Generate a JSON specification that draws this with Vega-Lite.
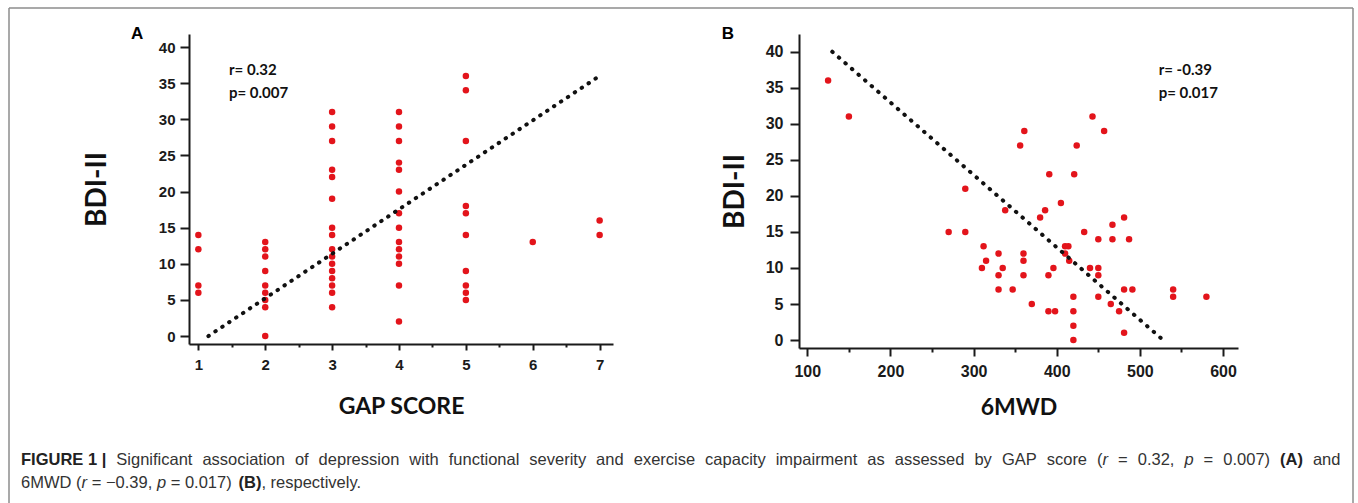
{
  "$schema": "https://vega.github.io/schema/vega-lite/v6.json",
  "background": "white",
  "padding": {"left": 8, "top": 7, "right": 0, "bottom": 0},
  "config": {
    "view": {"stroke": null},
    "text": {"font": "Liberation Sans", "fontSize": 16.5, "align": "left", "baseline": "alphabetic", "color": "#333333"},
    "axis": {
      "grid": false,
      "domainColor": "#1a1a1a",
      "domainWidth": 2,
      "tickColor": "#1a1a1a",
      "tickWidth": 2,
      "tickCount": 30,
      "labelFont": "Liberation Sans",
      "labelFontWeight": "bold",
      "labelColor": "#1a1a1a",
      "labelOverlap": false,
      "titleFont": "Lato",
      "titleFontWeight": "bold",
      "titleColor": "#111111"
    }
  },
  "datasets": {
    "gapPoints": [
      {"gap": 1, "bdi": 14}, {"gap": 1, "bdi": 12}, {"gap": 1, "bdi": 7}, {"gap": 1, "bdi": 6},
      {"gap": 2, "bdi": 13}, {"gap": 2, "bdi": 12}, {"gap": 2, "bdi": 11}, {"gap": 2, "bdi": 9}, {"gap": 2, "bdi": 7}, {"gap": 2, "bdi": 6}, {"gap": 2, "bdi": 5}, {"gap": 2, "bdi": 4}, {"gap": 2, "bdi": 0},
      {"gap": 3, "bdi": 31}, {"gap": 3, "bdi": 29}, {"gap": 3, "bdi": 27}, {"gap": 3, "bdi": 23}, {"gap": 3, "bdi": 22}, {"gap": 3, "bdi": 19}, {"gap": 3, "bdi": 15}, {"gap": 3, "bdi": 14}, {"gap": 3, "bdi": 12}, {"gap": 3, "bdi": 11}, {"gap": 3, "bdi": 10}, {"gap": 3, "bdi": 9}, {"gap": 3, "bdi": 8}, {"gap": 3, "bdi": 7}, {"gap": 3, "bdi": 6}, {"gap": 3, "bdi": 4},
      {"gap": 4, "bdi": 31}, {"gap": 4, "bdi": 29}, {"gap": 4, "bdi": 27}, {"gap": 4, "bdi": 24}, {"gap": 4, "bdi": 23}, {"gap": 4, "bdi": 20}, {"gap": 4, "bdi": 17}, {"gap": 4, "bdi": 15}, {"gap": 4, "bdi": 13}, {"gap": 4, "bdi": 12}, {"gap": 4, "bdi": 11}, {"gap": 4, "bdi": 10}, {"gap": 4, "bdi": 7}, {"gap": 4, "bdi": 2},
      {"gap": 5, "bdi": 36}, {"gap": 5, "bdi": 34}, {"gap": 5, "bdi": 27}, {"gap": 5, "bdi": 18}, {"gap": 5, "bdi": 17}, {"gap": 5, "bdi": 14}, {"gap": 5, "bdi": 9}, {"gap": 5, "bdi": 7}, {"gap": 5, "bdi": 6}, {"gap": 5, "bdi": 5},
      {"gap": 6, "bdi": 13},
      {"gap": 7, "bdi": 16}, {"gap": 7, "bdi": 14}
    ],
    "gapFit": [{"gap": 1.15, "bdi": 0}, {"gap": 7, "bdi": 36}],
    "mwdPoints": [
      {"mwd": 125, "bdi": 36}, {"mwd": 150, "bdi": 31}, {"mwd": 290, "bdi": 21}, {"mwd": 270, "bdi": 15}, {"mwd": 290, "bdi": 15},
      {"mwd": 443, "bdi": 31}, {"mwd": 457, "bdi": 29}, {"mwd": 361, "bdi": 29}, {"mwd": 356, "bdi": 27}, {"mwd": 424, "bdi": 27},
      {"mwd": 391, "bdi": 23}, {"mwd": 421, "bdi": 23}, {"mwd": 405, "bdi": 19}, {"mwd": 338, "bdi": 18}, {"mwd": 386, "bdi": 18},
      {"mwd": 380, "bdi": 17}, {"mwd": 433, "bdi": 15}, {"mwd": 481, "bdi": 17}, {"mwd": 467, "bdi": 16}, {"mwd": 450, "bdi": 14},
      {"mwd": 467, "bdi": 14}, {"mwd": 487, "bdi": 14}, {"mwd": 312, "bdi": 13}, {"mwd": 410, "bdi": 13}, {"mwd": 414, "bdi": 13},
      {"mwd": 410, "bdi": 12}, {"mwd": 415, "bdi": 11}, {"mwd": 330, "bdi": 12}, {"mwd": 360, "bdi": 12}, {"mwd": 315, "bdi": 11},
      {"mwd": 360, "bdi": 11}, {"mwd": 310, "bdi": 10}, {"mwd": 335, "bdi": 10}, {"mwd": 396, "bdi": 10}, {"mwd": 440, "bdi": 10},
      {"mwd": 450, "bdi": 10}, {"mwd": 330, "bdi": 9}, {"mwd": 360, "bdi": 9}, {"mwd": 390, "bdi": 9}, {"mwd": 450, "bdi": 9},
      {"mwd": 330, "bdi": 7}, {"mwd": 347, "bdi": 7}, {"mwd": 481, "bdi": 7}, {"mwd": 491, "bdi": 7}, {"mwd": 540, "bdi": 7},
      {"mwd": 540, "bdi": 6}, {"mwd": 580, "bdi": 6}, {"mwd": 450, "bdi": 6}, {"mwd": 420, "bdi": 6}, {"mwd": 370, "bdi": 5},
      {"mwd": 465, "bdi": 5}, {"mwd": 390, "bdi": 4}, {"mwd": 398, "bdi": 4}, {"mwd": 420, "bdi": 4}, {"mwd": 475, "bdi": 4},
      {"mwd": 420, "bdi": 2}, {"mwd": 420, "bdi": 0}, {"mwd": 481, "bdi": 1}
    ],
    "mwdFit": [{"mwd": 130, "bdi": 40}, {"mwd": 528, "bdi": 0}]
  },
  "vconcat": [
    {
      "hconcat": [
        {
          "width": 424,
          "height": 310,
          "layer": [
            {
              "data": {"name": "gapPoints"},
              "mark": {"type": "circle", "size": 42, "color": "#e3141b", "opacity": 1},
              "encoding": {
                "x": {
                  "field": "gap", "type": "quantitative",
                  "scale": {"domain": [0.86, 7.2], "nice": false, "zero": false},
                  "axis": {
                    "title": "GAP SCORE",
                    "values": [1, 1.5, 2, 2.5, 3, 3.5, 4, 4.5, 5, 5.5, 6, 6.5, 7],
                    "tickCount": 30,
                    "labelExpr": "datum.value % 1 === 0 ? format(datum.value, 'd') : ''",
                    "tickSize": {"condition": {"test": "datum.value % 1 !== 0", "value": 3}, "value": 6},
                    "labelFontSize": 15,
                    "labelPadding": 7,
                    "titleFontSize": 23,
                    "titlePadding": 23
                  }
                },
                "y": {
                  "field": "bdi", "type": "quantitative",
                  "scale": {"domain": [-1.1, 41.8], "nice": false, "zero": false},
                  "axis": {
                    "title": "BDI-II",
                    "values": [0, 5, 10, 15, 20, 25, 30, 35, 40],
                    "tickCount": 30,
                    "tickSize": 9,
                    "labelFontSize": 15,
                    "labelPadding": 5,
                    "titleFontSize": 28,
                    "titlePadding": 47
                  }
                }
              }
            },
            {
              "data": {"name": "gapFit"},
              "mark": {"type": "line", "color": "#111111", "strokeWidth": 4, "strokeCap": "round", "strokeDash": [0.5, 7.8]},
              "encoding": {
                "x": {"field": "gap", "type": "quantitative"},
                "y": {"field": "bdi", "type": "quantitative"}
              }
            },
            {
              "data": {"values": [{}]},
              "mark": {"type": "text", "text": "r= 0.32", "font": "Lato", "fontWeight": "bold", "fontSize": 15, "align": "left", "baseline": "middle", "color": "#111111"},
              "encoding": {"x": {"datum": 1.458}, "y": {"datum": 36.82}}
            },
            {
              "data": {"values": [{}]},
              "mark": {"type": "text", "text": "p= 0.007", "font": "Lato", "fontWeight": "bold", "fontSize": 15, "align": "left", "baseline": "middle", "color": "#111111"},
              "encoding": {"x": {"datum": 1.458}, "y": {"datum": 33.68}}
            },
            {
              "data": {"values": [{}]},
              "mark": {"type": "text", "text": "A", "font": "Liberation Sans", "fontWeight": "bold", "fontSize": 17, "align": "center", "baseline": "middle", "color": "#000000"},
              "encoding": {"x": {"datum": 0.083}, "y": {"datum": 41.8}}
            }
          ]
        },
        {
          "width": 439,
          "height": 314,
          "layer": [
            {
              "data": {"name": "mwdPoints"},
              "mark": {"type": "circle", "size": 42, "color": "#e3141b", "opacity": 1},
              "encoding": {
                "x": {
                  "field": "mwd", "type": "quantitative",
                  "scale": {"domain": [90, 618], "nice": false, "zero": false},
                  "axis": {
                    "title": "6MWD",
                    "values": [100, 150, 200, 250, 300, 350, 400, 450, 500, 550, 600],
                    "tickCount": 30,
                    "labelExpr": "datum.value % 100 === 0 ? datum.label : ''",
                    "tickSize": {"condition": {"test": "datum.value % 100 !== 0", "value": 4}, "value": 8},
                    "labelFontSize": 16,
                    "labelPadding": 7,
                    "titleFontSize": 23,
                    "titlePadding": 17
                  }
                },
                "y": {
                  "field": "bdi", "type": "quantitative",
                  "scale": {"domain": [-1.1, 42.46], "nice": false, "zero": false},
                  "axis": {
                    "title": "BDI-II",
                    "values": [0, 5, 10, 15, 20, 25, 30, 35, 40],
                    "tickCount": 30,
                    "tickSize": 9,
                    "labelFontSize": 16,
                    "labelPadding": 7,
                    "titleFontSize": 28,
                    "titlePadding": 16
                  }
                }
              }
            },
            {
              "data": {"name": "mwdFit"},
              "mark": {"type": "line", "color": "#111111", "strokeWidth": 4, "strokeCap": "round", "strokeDash": [0.5, 8.2]},
              "encoding": {
                "x": {"field": "mwd", "type": "quantitative"},
                "y": {"field": "bdi", "type": "quantitative"}
              }
            },
            {
              "data": {"values": [{}]},
              "mark": {"type": "text", "text": "r= -0.39", "font": "Lato", "fontWeight": "bold", "fontSize": 15, "align": "left", "baseline": "middle", "color": "#111111"},
              "encoding": {"x": {"datum": 522.6}, "y": {"datum": 37.46}}
            },
            {
              "data": {"values": [{}]},
              "mark": {"type": "text", "text": "p= 0.017", "font": "Lato", "fontWeight": "bold", "fontSize": 15, "align": "left", "baseline": "middle", "color": "#111111"},
              "encoding": {"x": {"datum": 522.6}, "y": {"datum": 34.31}}
            },
            {
              "data": {"values": [{}]},
              "mark": {"type": "text", "text": "B", "font": "Liberation Sans", "fontWeight": "bold", "fontSize": 17, "align": "center", "baseline": "middle", "color": "#000000"},
              "encoding": {"x": {"datum": 4.6}, "y": {"datum": 42.46}}
            }
          ]
        }
      ],
      "spacing": 186,
      "bounds": "flush"
    },
    {
      "width": 1100,
      "height": 50,
      "data": {"values": [{}]},
      "encoding": {
        "x": {"datum": 0, "type": "quantitative", "scale": {"domain": [0, 1100], "nice": false, "zero": false}, "axis": null},
        "y": {"datum": 0, "type": "quantitative", "scale": {"domain": [0, 50], "nice": false, "zero": false, "reverse": true}, "axis": null}
      },
      "layer": [
        {"mark": {"type": "rule", "color": "#8c8c8c", "strokeWidth": 1.5},
         "encoding": {"x": {"datum": -180, "type": "quantitative"}, "y": {"datum": -436, "type": "quantitative"}, "y2": {"datum": 62}}},
        {"mark": {"type": "rule", "color": "#8c8c8c", "strokeWidth": 1.5},
         "encoding": {"x": {"datum": 1164, "type": "quantitative"}, "y": {"datum": -436, "type": "quantitative"}, "y2": {"datum": 62}}},
        {"mark": {"type": "rule", "color": "#8c8c8c", "strokeWidth": 1.5},
         "encoding": {"y": {"datum": -436, "type": "quantitative"}, "x": {"datum": -180, "type": "quantitative"}, "x2": {"datum": 1164}}},
        {"mark": {"type": "text", "text": "FIGURE 1 |", "fontWeight": "bold", "color": "#222222"}, "encoding": {"x": {"datum": -168, "type": "quantitative"}, "y": {"datum": 21, "type": "quantitative"}}},
        {"mark": {"type": "text", "text": "Significant"}, "encoding": {"x": {"datum": -72.7, "type": "quantitative"}, "y": {"datum": 21, "type": "quantitative"}}},
        {"mark": {"type": "text", "text": "association"}, "encoding": {"x": {"datum": 13.4, "type": "quantitative"}, "y": {"datum": 21, "type": "quantitative"}}},
        {"mark": {"type": "text", "text": "of"}, "encoding": {"x": {"datum": 105.9, "type": "quantitative"}, "y": {"datum": 21, "type": "quantitative"}}},
        {"mark": {"type": "text", "text": "depression"}, "encoding": {"x": {"datum": 129.6, "type": "quantitative"}, "y": {"datum": 21, "type": "quantitative"}}},
        {"mark": {"type": "text", "text": "with"}, "encoding": {"x": {"datum": 220.3, "type": "quantitative"}, "y": {"datum": 21, "type": "quantitative"}}},
        {"mark": {"type": "text", "text": "functional"}, "encoding": {"x": {"datum": 259.7, "type": "quantitative"}, "y": {"datum": 21, "type": "quantitative"}}},
        {"mark": {"type": "text", "text": "severity"}, "encoding": {"x": {"datum": 340.3, "type": "quantitative"}, "y": {"datum": 21, "type": "quantitative"}}},
        {"mark": {"type": "text", "text": "and"}, "encoding": {"x": {"datum": 407.1, "type": "quantitative"}, "y": {"datum": 21, "type": "quantitative"}}},
        {"mark": {"type": "text", "text": "exercise"}, "encoding": {"x": {"datum": 444.7, "type": "quantitative"}, "y": {"datum": 21, "type": "quantitative"}}},
        {"mark": {"type": "text", "text": "capacity"}, "encoding": {"x": {"datum": 516.1, "type": "quantitative"}, "y": {"datum": 21, "type": "quantitative"}}},
        {"mark": {"type": "text", "text": "impairment"}, "encoding": {"x": {"datum": 586.7, "type": "quantitative"}, "y": {"datum": 21, "type": "quantitative"}}},
        {"mark": {"type": "text", "text": "as"}, "encoding": {"x": {"datum": 678.2, "type": "quantitative"}, "y": {"datum": 21, "type": "quantitative"}}},
        {"mark": {"type": "text", "text": "assessed"}, "encoding": {"x": {"datum": 705.7, "type": "quantitative"}, "y": {"datum": 21, "type": "quantitative"}}},
        {"mark": {"type": "text", "text": "by"}, "encoding": {"x": {"datum": 785.4, "type": "quantitative"}, "y": {"datum": 21, "type": "quantitative"}}},
        {"mark": {"type": "text", "text": "GAP"}, "encoding": {"x": {"datum": 812.9, "type": "quantitative"}, "y": {"datum": 21, "type": "quantitative"}}},
        {"mark": {"type": "text", "text": "score"}, "encoding": {"x": {"datum": 857.7, "type": "quantitative"}, "y": {"datum": 21, "type": "quantitative"}}},
        {"mark": {"type": "text", "text": "("}, "encoding": {"x": {"datum": 908.0, "type": "quantitative"}, "y": {"datum": 21, "type": "quantitative"}}},
        {"mark": {"type": "text", "text": "r", "fontStyle": "italic"}, "encoding": {"x": {"datum": 913.5, "type": "quantitative"}, "y": {"datum": 21, "type": "quantitative"}}},
        {"mark": {"type": "text", "text": "="}, "encoding": {"x": {"datum": 929.0, "type": "quantitative"}, "y": {"datum": 21, "type": "quantitative"}}},
        {"mark": {"type": "text", "text": "0.32,"}, "encoding": {"x": {"datum": 948.7, "type": "quantitative"}, "y": {"datum": 21, "type": "quantitative"}}},
        {"mark": {"type": "text", "text": "p", "fontStyle": "italic"}, "encoding": {"x": {"datum": 995.4, "type": "quantitative"}, "y": {"datum": 21, "type": "quantitative"}}},
        {"mark": {"type": "text", "text": "="}, "encoding": {"x": {"datum": 1014.6, "type": "quantitative"}, "y": {"datum": 21, "type": "quantitative"}}},
        {"mark": {"type": "text", "text": "0.007)"}, "encoding": {"x": {"datum": 1034.3, "type": "quantitative"}, "y": {"datum": 21, "type": "quantitative"}}},
        {"mark": {"type": "text", "text": "(A)", "fontWeight": "bold", "color": "#222222"}, "encoding": {"x": {"datum": 1091.0, "type": "quantitative"}, "y": {"datum": 21, "type": "quantitative"}}},
        {"mark": {"type": "text", "text": "and"}, "encoding": {"x": {"datum": 1123.9, "type": "quantitative"}, "y": {"datum": 21, "type": "quantitative"}}},
        {"mark": {"type": "text", "text": "6MWD ("}, "encoding": {"x": {"datum": -168, "type": "quantitative"}, "y": {"datum": 44, "type": "quantitative"}}},
        {"mark": {"type": "text", "text": "r", "fontStyle": "italic"}, "encoding": {"x": {"datum": -107.4, "type": "quantitative"}, "y": {"datum": 44, "type": "quantitative"}}},
        {"mark": {"type": "text", "text": "= \u22120.39,"}, "encoding": {"x": {"datum": -97.3, "type": "quantitative"}, "y": {"datum": 44, "type": "quantitative"}}},
        {"mark": {"type": "text", "text": "p", "fontStyle": "italic"}, "encoding": {"x": {"datum": -32.1, "type": "quantitative"}, "y": {"datum": 44, "type": "quantitative"}}},
        {"mark": {"type": "text", "text": "= 0.017)"}, "encoding": {"x": {"datum": -18.3, "type": "quantitative"}, "y": {"datum": 44, "type": "quantitative"}}},
        {"mark": {"type": "text", "text": "(B)", "fontWeight": "bold", "color": "#222222"}, "encoding": {"x": {"datum": 49.5, "type": "quantitative"}, "y": {"datum": 44, "type": "quantitative"}}},
        {"mark": {"type": "text", "text": ", respectively."}, "encoding": {"x": {"datum": 72.4, "type": "quantitative"}, "y": {"datum": 44, "type": "quantitative"}}}
      ]
    }
  ],
  "spacing": 410,
  "bounds": "flush"
}
